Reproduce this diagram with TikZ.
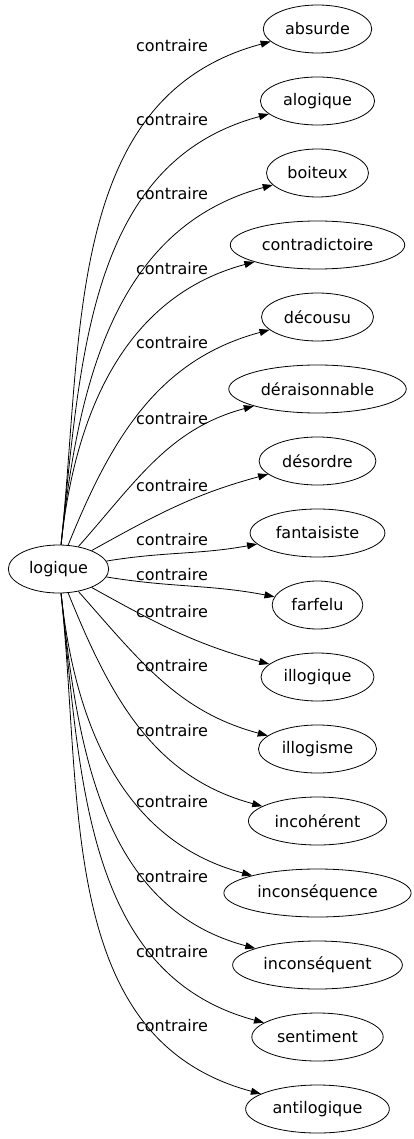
\documentclass[tikz,border=0pt]{standalone}
\usepackage{fontspec}
\setmainfont{DejaVu Sans}
\usetikzlibrary{shapes.geometric,arrows.meta}

\begin{document}
\begin{tikzpicture}[x=1pt, y=1pt,
    every node/.style={font=\fontsize{16}{19}\selectfont},
    mot/.style={ellipse, draw, line width=0.8pt, inner xsep=6pt, inner ysep=0pt, minimum height=48pt},
    etiquette/.style={inner sep=0pt},
    lien/.style={line width=0.8pt, -{Triangle[length=10pt,width=7pt]}}]
    \useasboundingbox (0,0) rectangle (414,-1139);
    \node[mot] (L) at (58.5,-569) {logique};

    % vers le haut
    \foreach \mot/\ly [count=\i from 0] in {absurde/46, alogique/120, boiteux/194, contradictoire/269, décousu/343, déraisonnable/419, désordre/486, fantaisiste/540} {
        \pgfmathsetmacro{\ty}{-(29+72*\i)}
        \pgfmathsetmacro{\dy}{540-72*\i}
        \pgfmathsetmacro{\sortie}{min(84,0.27*\dy)}
        \pgfmathsetmacro{\entree}{180+min(15,0.3*\dy)}
        \node[mot] (h\i) at (317.5,\ty) {\mot};
        \node[etiquette] (eh\i) at (172,-\ly) {contraire};
        \draw[lien] (L) to[out=\sortie, in=\entree] (h\i);
    }

    % vers le bas
    \foreach \mot/\ly [count=\i from 0] in {farfelu/575, illogique/612, illogisme/666, incohérent/731, inconséquence/802, inconséquent/877, sentiment/952, antilogique/1026} {
        \pgfmathsetmacro{\ty}{-(605+72*\i)}
        \pgfmathsetmacro{\dy}{36+72*\i}
        \pgfmathsetmacro{\sortie}{-min(84,0.27*\dy)}
        \pgfmathsetmacro{\entree}{180-min(15,0.3*\dy)}
        \node[mot] (b\i) at (317.5,\ty) {\mot};
        \node[etiquette] (eb\i) at (172,-\ly) {contraire};
        \draw[lien] (L) to[out=\sortie, in=\entree] (b\i);
    }
\end{tikzpicture}
\end{document}
